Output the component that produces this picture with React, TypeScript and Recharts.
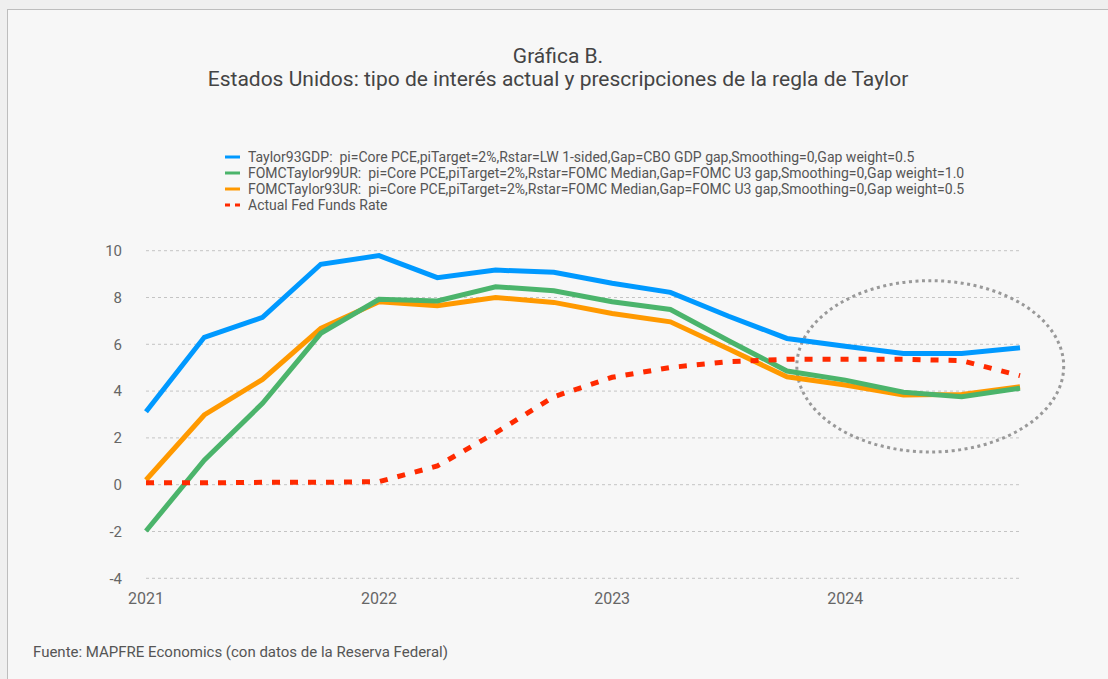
import React from 'react';
import { LineChart, Line, XAxis, YAxis, CartesianGrid, ReferenceArea } from 'recharts';

const quarters = ['2021T1','2021T2','2021T3','2021T4','2022T1','2022T2','2022T3','2022T4','2023T1','2023T2','2023T3','2023T4','2024T1','2024T2','2024T3','2024T4'];
const taylor93GDP = [3.12, 6.3, 7.15, 9.42, 9.79, 8.85, 9.17, 9.08, 8.61, 8.22, 7.2, 6.25, 5.92, 5.61, 5.61, 5.85];
const fomcTaylor99UR = [-1.98, 1.05, 3.48, 6.47, 7.92, 7.85, 8.46, 8.29, 7.82, 7.49, 6.15, 4.86, 4.47, 3.95, 3.76, 4.12];
const fomcTaylor93UR = [0.2, 2.98, 4.5, 6.68, 7.82, 7.65, 8.0, 7.79, 7.32, 6.96, 5.8, 4.61, 4.26, 3.83, 3.86, 4.19];
const fedFunds = [0.08, 0.08, 0.1, 0.1, 0.13, 0.8, 2.22, 3.76, 4.59, 5.01, 5.26, 5.36, 5.36, 5.36, 5.3, 4.66];
const yearTicks = ['2021', '2022', '2023', '2024'];
const yTicks = [-4, -2, 0, 2, 4, 6, 8, 10];
// highlighted region (quarter index / value units)
const highlightX = [11.17, 15.75];
const highlightY = [1.4, 8.72];

const seriesNames = [
  'Taylor93GDP:  pi=Core PCE,piTarget=2%,Rstar=LW 1-sided,Gap=CBO GDP gap,Smoothing=0,Gap weight=0.5',
  'FOMCTaylor99UR:  pi=Core PCE,piTarget=2%,Rstar=FOMC Median,Gap=FOMC U3 gap,Smoothing=0,Gap weight=1.0',
  'FOMCTaylor93UR:  pi=Core PCE,piTarget=2%,Rstar=FOMC Median,Gap=FOMC U3 gap,Smoothing=0,Gap weight=0.5',
  'Actual Fed Funds Rate',
];
const seriesColors = ['#0099ff', '#4bb46b', '#ff9900', '#ff2a00'];

const data = quarters.map((q, i) => ({
  t: i,
  q,
  blue: taylor93GDP[i],
  green: fomcTaylor99UR[i],
  orange: fomcTaylor93UR[i],
  red: fedFunds[i],
}));

const FONT = 'Roboto, "Noto Sans", sans-serif';

const EllipseShape = (props: any) => {
  const { x, y, width, height } = props;
  if (x == null) return null;
  return (
    <ellipse
      cx={x + width / 2}
      cy={y + height / 2}
      rx={Math.abs(width) / 2}
      ry={Math.abs(height) / 2}
      fill="none"
      stroke="#999999"
      strokeWidth={3}
      strokeDasharray="3 3.5"
    />
  );
};

export default function App() {
  return (
    <div style={{ position: 'absolute', left: 0, top: 0, width: 1108, height: 679, background: '#efefef', overflow: 'hidden', fontFamily: FONT }}>
      <div style={{ position: 'absolute', left: 7, top: 9, width: 1120, height: 700, background: '#f7f7f7', border: '1px solid #bdbdbd', boxSizing: 'border-box' }} />
      <div style={{ position: 'absolute', left: 0, top: 0 }}>
        <LineChart width={1108} height={679} data={data} margin={{ top: 250.7, right: 88, bottom: 70.7, left: 86 }}>
          <CartesianGrid vertical={false} stroke="#c4c4c4" strokeDasharray="3 3" />
          <XAxis
            dataKey="t"
            type="number"
            domain={[0, 15]}
            ticks={[0, 4, 8, 12]}
            tickFormatter={(v: number) => yearTicks[v / 4]}
            axisLine={false}
            tickLine={false}
            tickMargin={8}
            height={30}
            tick={{ fill: '#666', fontSize: 16, fontFamily: FONT }}
            interval={0}
          />
          <YAxis
            width={60}
            domain={[-4, 10]}
            ticks={yTicks}
            axisLine={false}
            tickLine={false}
            tickSize={0}
            tickMargin={24}
            tick={{ fill: '#666', fontSize: 15, fontFamily: FONT }}
            interval={0}
          />
          <Line type="linear" dataKey="blue" stroke={seriesColors[0]} strokeWidth={5} dot={false} isAnimationActive={false} />
          <Line type="linear" dataKey="orange" stroke={seriesColors[2]} strokeWidth={5} dot={false} isAnimationActive={false} />
          <Line type="linear" dataKey="green" stroke={seriesColors[1]} strokeWidth={5} dot={false} isAnimationActive={false} />
          <Line type="linear" dataKey="red" stroke={seriesColors[3]} strokeWidth={5} strokeDasharray="8 10" dot={false} isAnimationActive={false} />
          <ReferenceArea x1={highlightX[0]} x2={highlightX[1]} y1={highlightY[0]} y2={highlightY[1]} ifOverflow="visible" shape={<EllipseShape />} />
        </LineChart>
      </div>
      <div style={{ position: 'absolute', left: 0, width: 1116, top: 45, textAlign: 'center', fontSize: 21, color: '#444', lineHeight: '23px' }}>
        <div>Gráfica B.</div>
        <div>Estados Unidos: tipo de interés actual y prescripciones de la regla de Taylor</div>
      </div>
      <div style={{ position: 'absolute', left: 225, top: 149 }}>
        {seriesNames.map((name, i) => (
          <div key={i} style={{ display: 'flex', alignItems: 'center', height: 16, fontSize: 14, color: '#555', whiteSpace: 'pre' }}>
            <svg width={23} height={16} style={{ flex: 'none' }}>
              {i === 3 ? (
                <line x1={0} y1={8} x2={15} y2={8} stroke={seriesColors[i]} strokeWidth={3} strokeDasharray="5 5" />
              ) : (
                <line x1={0} y1={8} x2={15} y2={8} stroke={seriesColors[i]} strokeWidth={3} />
              )}
            </svg>
            <span>{name}</span>
          </div>
        ))}
      </div>
      <div style={{ position: 'absolute', left: 33, top: 643, fontSize: 15, color: '#555', whiteSpace: 'nowrap' }}>
        Fuente: MAPFRE Economics (con datos de la Reserva Federal)
      </div>
    </div>
  );
}
